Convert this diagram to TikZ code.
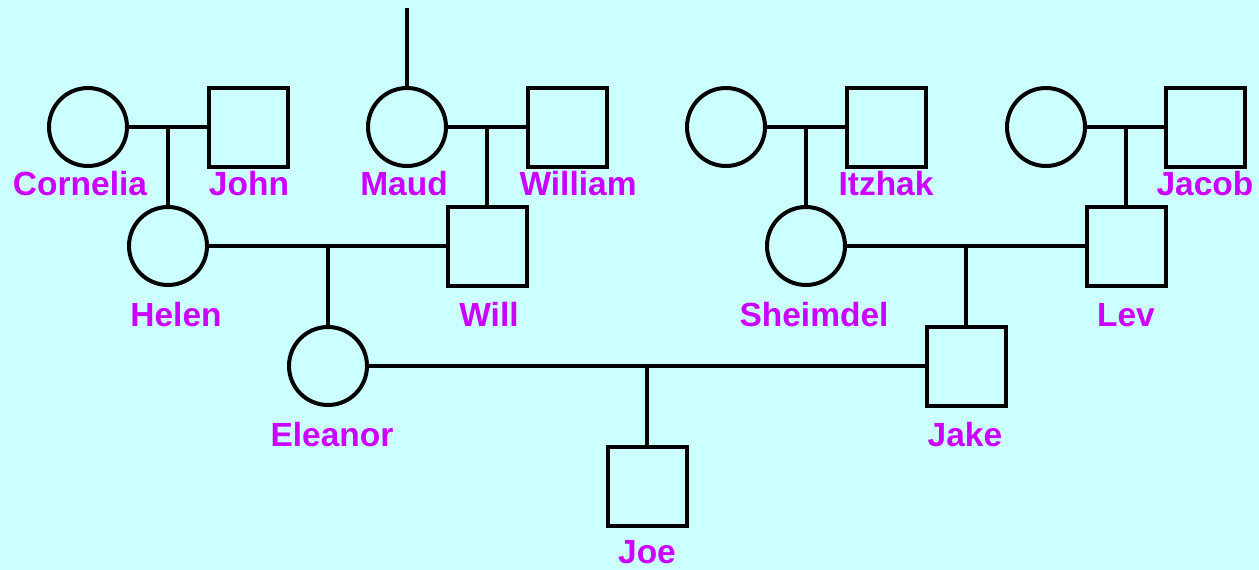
\documentclass[tikz,border=0pt]{standalone}
\usepackage{fontspec}
\setmainfont{Liberation Sans}
\usetikzlibrary{calc}
\definecolor{bg}{RGB}{204,255,255}
\definecolor{lbl}{RGB}{204,0,255}
\begin{document}
\begin{tikzpicture}[x=1pt,y=-1pt,
 fem/.style={circle,draw,line width=4pt,minimum size=78pt,inner sep=0pt},
 mal/.style={rectangle,draw,line width=4pt,minimum size=79pt,inner sep=0pt},
 lab/.style={text=lbl,font=\fontsize{33.5}{36}\selectfont\bfseries,anchor=base,inner sep=0pt},
 rel/.style={line width=3.5pt}]
\fill[bg] (0,0) rectangle (1259,570);
\useasboundingbox (0,0) rectangle (1259,570);
% generation 1
\node[fem] (cornelia) at (88,127) {};
\node[mal] (john) at (248,127) {};
\node[fem] (maud) at (407,127) {};
\node[mal] (william) at (567,127) {};
\node[fem] (itzhakw) at (726,127) {};
\node[mal] (itzhak) at (886,127) {};
\node[fem] (jacobw) at (1046,127) {};
\node[mal] (jacob) at (1205,127) {};
% generation 2
\node[fem] (helen) at (168,246) {};
\node[mal] (will) at (487,246) {};
\node[fem] (sheimdel) at (806,246) {};
\node[mal] (lev) at (1126,246) {};
% generation 3
\node[fem] (eleanor) at (328,366) {};
\node[mal] (jake) at (966,366) {};
% generation 4
\node[mal] (joe) at (647,486) {};
% labels
\node[lab] (lcornelia) at (80,195) {Cornelia};
\node[lab] (ljohn) at (249,195) {John};
\node[lab] (lmaud) at (404,195) {Maud};
\node[lab] (lwilliam) at (578,195) {William};
\node[lab] (litzhak) at (886,195) {Itzhak};
\node[lab] (ljacob) at (1205,195) {Jacob};
\node[lab] (lhelen) at (176,326) {Helen};
\node[lab] (lwill) at (489,326) {Will};
\node[lab] (lsheimdel) at (814,326) {Sheimdel};
\node[lab] (llev) at (1126,326) {Lev};
\node[lab] (leleanor) at (332,446) {Eleanor};
\node[lab] (ljake) at (965,446) {Jake};
\node[lab] (ljoe) at (647,563) {Joe};
% connectors
\coordinate (maudtop) at (407,8);
\draw[rel] (maudtop) -- (maud.north);
\draw[rel] (cornelia.east) -- (john.west);
\draw[rel] (maud.east) -- (william.west);
\draw[rel] (itzhakw.east) -- (itzhak.west);
\draw[rel] (jacobw.east) -- (jacob.west);
\draw[rel] (helen.east) -- (will.west);
\draw[rel] (sheimdel.east) -- (lev.west);
\draw[rel] (eleanor.east) -- (jake.west);
\coordinate (m1) at (helen.north |- cornelia.east);
\coordinate (m2) at (will.north |- maud.east);
\coordinate (m3) at (sheimdel.north |- itzhakw.east);
\coordinate (m4) at (lev.north |- jacobw.east);
\coordinate (m5) at (eleanor.north |- helen.east);
\coordinate (m6) at (jake.north |- sheimdel.east);
\coordinate (m7) at (joe.north |- eleanor.east);
\draw[rel] (m1) -- (helen.north);
\draw[rel] (m2) -- (will.north);
\draw[rel] (m3) -- (sheimdel.north);
\draw[rel] (m4) -- (lev.north);
\draw[rel] (m5) -- (eleanor.north);
\draw[rel] (m6) -- (jake.north);
\draw[rel] (m7) -- (joe.north);
\end{tikzpicture}
\end{document}
